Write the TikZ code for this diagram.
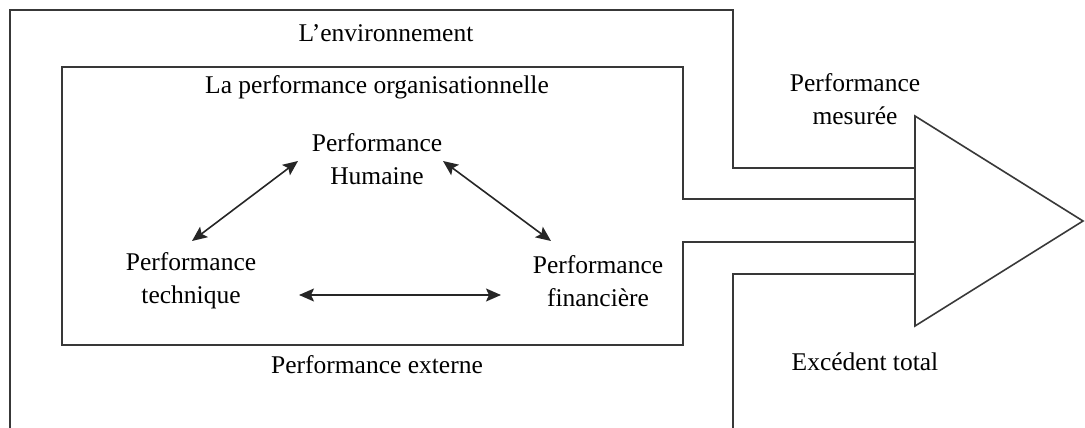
\documentclass[tikz,border=0pt]{standalone}
\usepackage{fontspec}
\setmainfont{Liberation Serif}
\usetikzlibrary{arrows.meta}
\begin{document}
\begin{tikzpicture}[x=1pt,y=-1pt,
  frame/.style={line width=1.6pt,draw=black!78,line join=miter},
  label/.style={inner sep=0pt,align=center,font=\fontsize{25.5}{33}\selectfont},
  tip/.tip={Stealth[length=15pt,width=13pt,inset=3pt]},
  link/.style={line width=1.6pt,draw=black!85,tip-tip}]
\useasboundingbox (0,0) rectangle (1085,428);

% environment frame, upper and lower halves
\draw[frame] (10,428) -- (10,10) -- (733,10) -- (733,168) -- (915,168);
\draw[frame] (915,274) -- (733,274) -- (733,428);
% organisation box, open towards the output
\draw[frame] (915,199) -- (683,199) -- (683,67) -- (62,67) -- (62,345)
  -- (683,345) -- (683,242) -- (915,242);
% output arrow
\draw[frame] (915,116) -- (1083,221) -- (915,326) -- cycle;

% texts
\node[label] (env)  at (386,33)  {L’environnement};
\node[label] (org)  at (377,87)  {La performance organisationnelle};
\node[label] (hum)  at (377,159) {Performance\\Humaine};
\node[label] (tech) at (191,281) {Performance\\technique};
\node[label] (fin)  at (598,281) {Performance\\financière};
\node[label] (ext)  at (377,365) {Performance externe};
\node[label] (mes)  at (855,99)  {Performance\\mesurée};
\node[label] (exc)  at (865,362) {Excédent total};

% arrow end points around the three performances
\coordinate (humL)  at (298,161);
\coordinate (humR)  at (443,161);
\coordinate (techT) at (192,241);
\coordinate (finT)  at (551,241);
\coordinate (techR) at (299,295);
\coordinate (finL)  at (501,295);

\draw[link] (techT) -- (humL);
\draw[link] (humR) -- (finT);
\draw[link] (techR) -- (finL);
\end{tikzpicture}
\end{document}
